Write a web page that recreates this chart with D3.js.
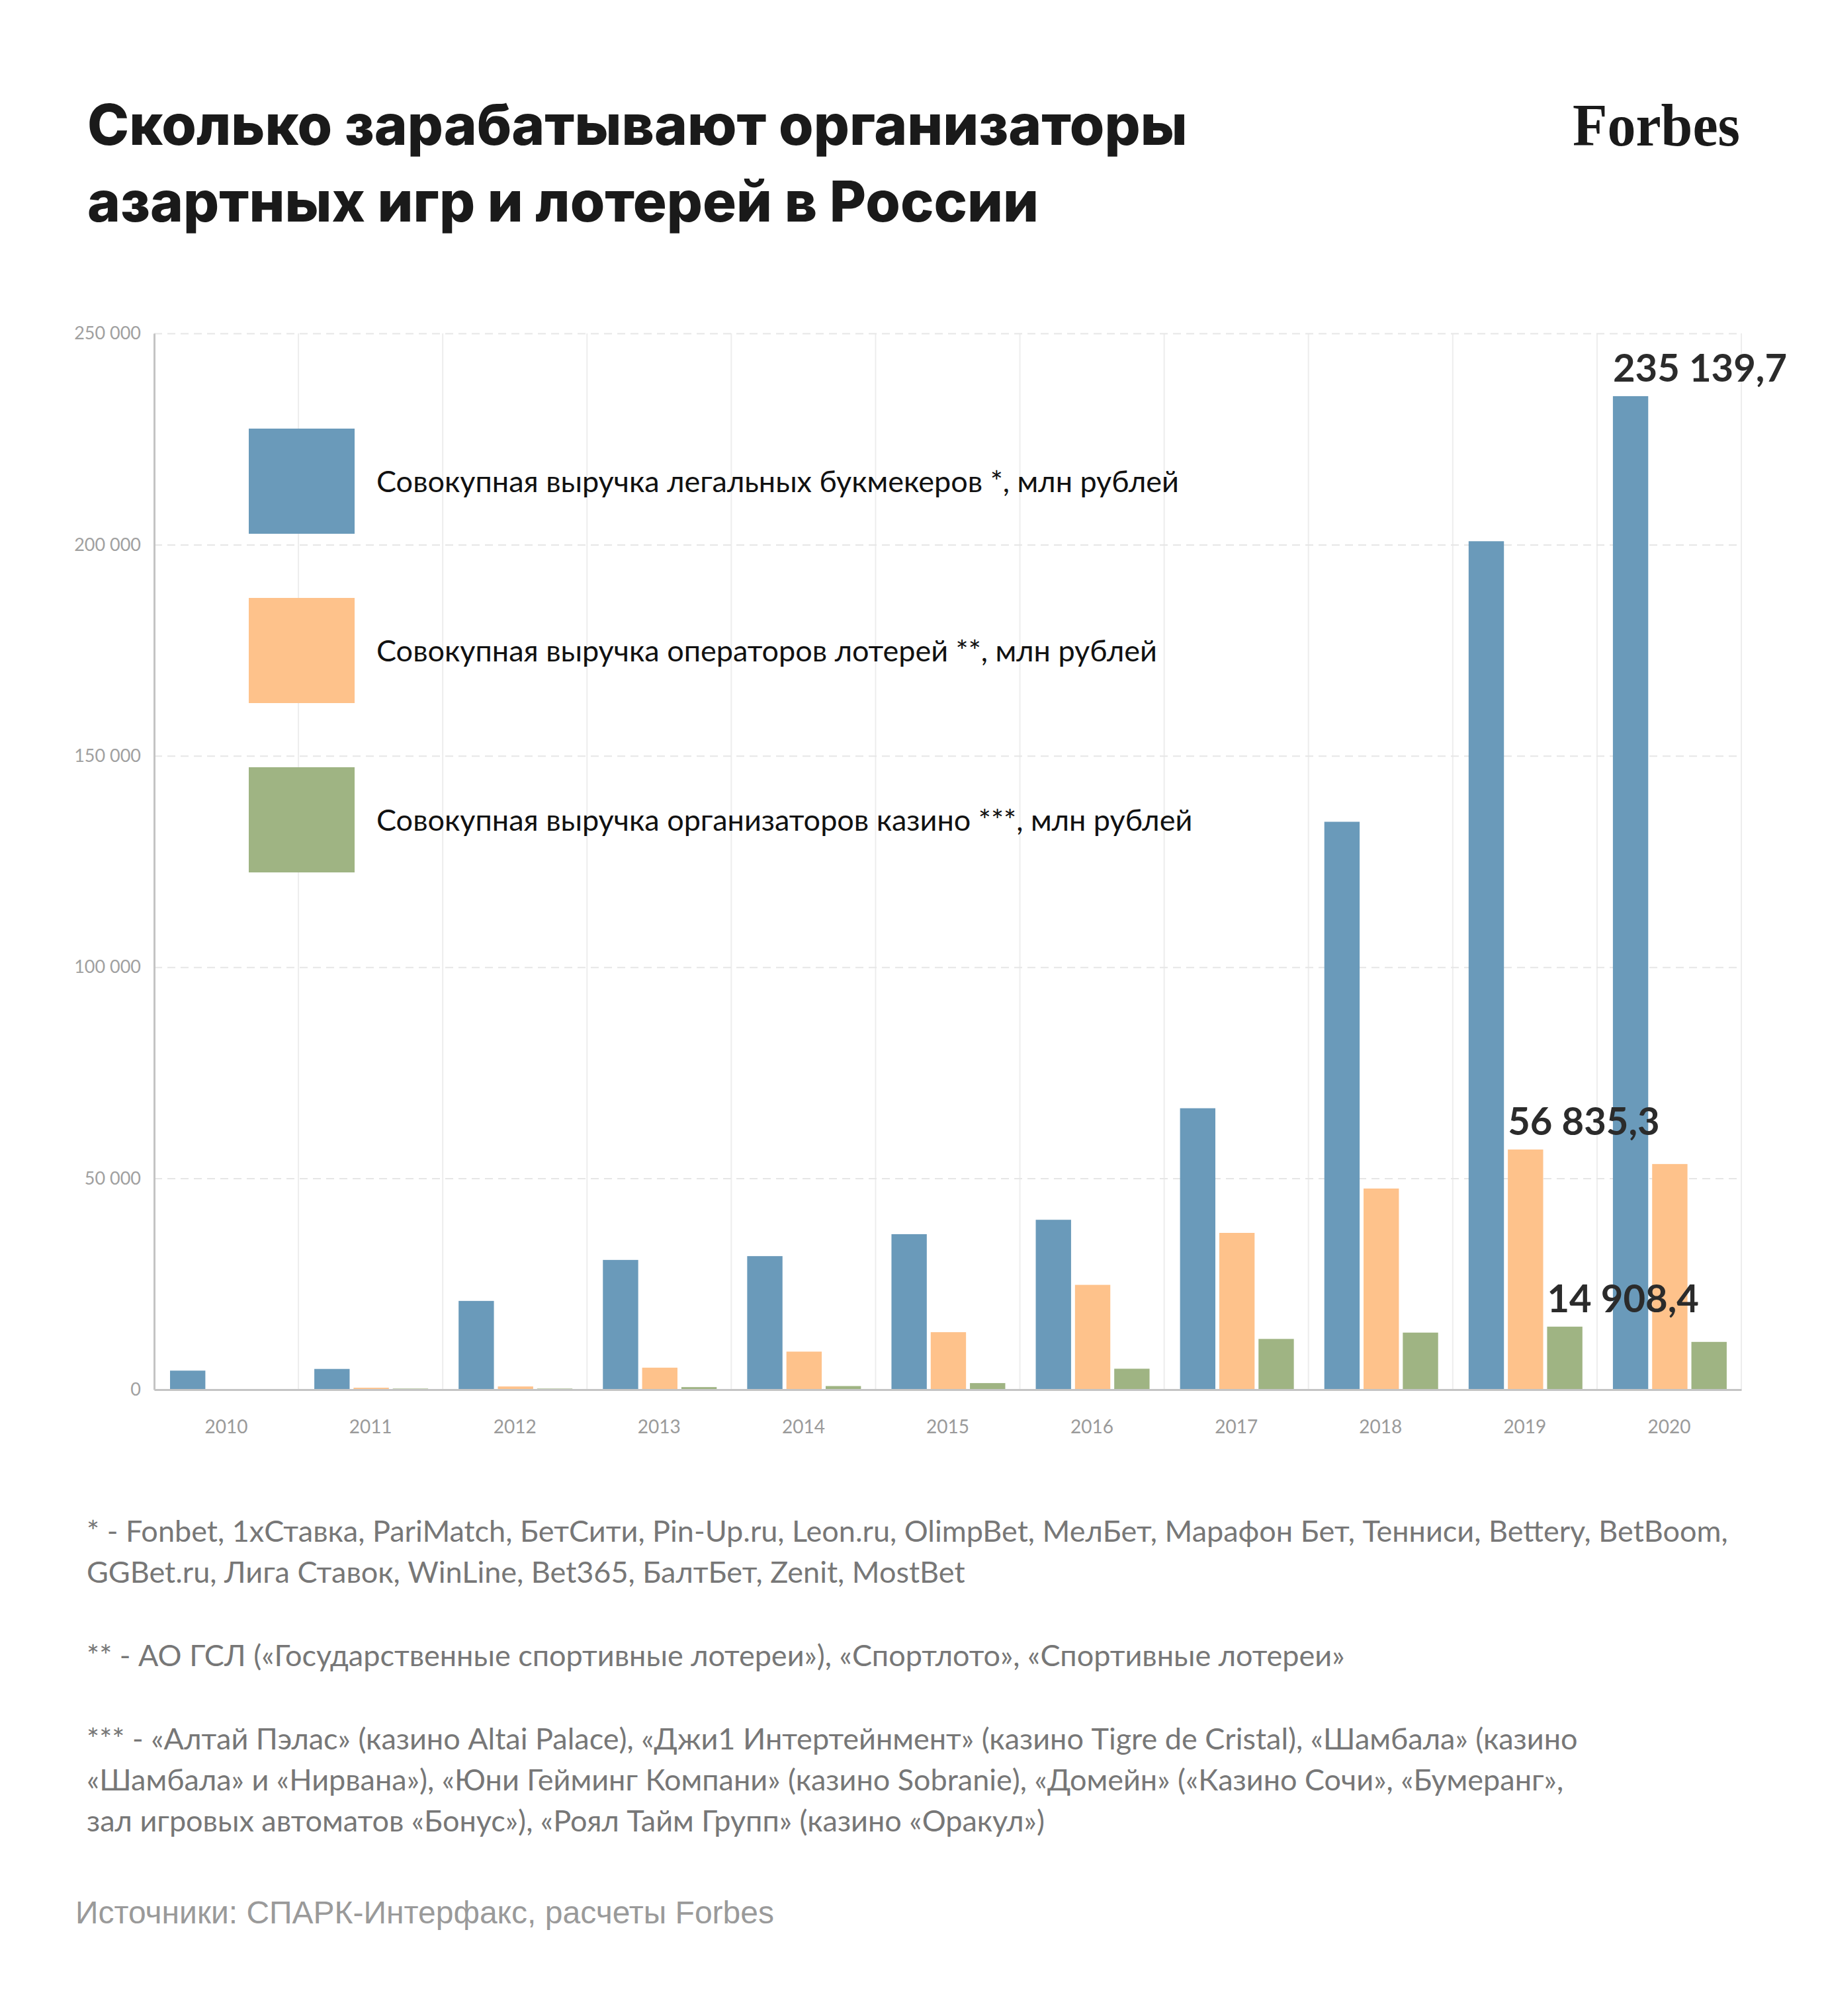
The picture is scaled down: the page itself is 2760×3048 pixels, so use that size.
<!DOCTYPE html>
<html>
<head>
<meta charset="utf-8">
<script src="https://cdn.jsdelivr.net/npm/d3@7"></script>
<style>
  html, body { margin: 0; padding: 0; background: #ffffff; }
  svg { display: block; }
</style>
</head>
<body>
<script>
// ---------- DATA ----------
const years = ["2010","2011","2012","2013","2014","2015","2016","2017","2018","2019","2020"];
const seriesKeys = ["bookmakers","lotteries","casinos"];
const seriesNames = [
  "Совокупная выручка легальных букмекеров *, млн рублей",
  "Совокупная выручка операторов лотерей **, млн рублей",
  "Совокупная выручка организаторов казино ***, млн рублей"
];
const bookmakers = [4500, 4900, 21000, 30700, 31600, 36800, 40200, 66600, 134400, 200800, 235139.7];
const lotteries  = [0, 450, 750, 5200, 9000, 13600, 24800, 37100, 47600, 56835.3, 53400];
const casinos    = [100, 250, 250, 600, 850, 1550, 4950, 12000, 13500, 14908.4, 11300];
const yTicks = [0, 50000, 100000, 150000, 200000, 250000];
const annotations = [
  {series: "bookmakers", year: "2020"},
  {series: "lotteries",  year: "2019"},
  {series: "casinos",    year: "2019"}
];
const titleLines = ["Сколько зарабатывают организаторы", "азартных игр и лотерей в России"];
const footnotes = [
  ["* - Fonbet, 1xСтавка, PariMatch, БетСити, Pin-Up.ru, Leon.ru, OlimpBet, МелБет, Марафон Бет, Тенниси, Bettery, BetBoom,",
   "GGBet.ru, Лига Ставок, WinLine, Bet365, БалтБет, Zenit, MostBet"],
  ["** - АО ГСЛ («Государственные спортивные лотереи»), «Спортлото», «Спортивные лотереи»"],
  ["*** - «Алтай Пэлас» (казино Altai Palace), «Джи1 Интертейнмент» (казино Tigre de Cristal), «Шамбала» (казино",
   "«Шамбала» и «Нирвана»), «Юни Гейминг Компани» (казино Sobranie), «Домейн» («Казино Сочи», «Бумеранг»,",
   "зал игровых автоматов «Бонус»), «Роял Тайм Групп» (казино «Оракул»)"]
];
const sourceText = "Источники: СПАРК-Интерфакс, расчеты Forbes";
const logoText = "Forbes";

// ---------- STYLE / LAYOUT ----------
const W = 2760, H = 3048;
const colors = {bookmakers: "#6a9aba", lotteries: "#fec28b", casinos: "#9fb483"};
const plot = {left: 233, right: 2632, top: 504, bottom: 2101};
const bodyFont = "Lato, 'Noto Sans', sans-serif";

const values = {bookmakers, lotteries, casinos};
const table = years.map((y, i) => ({year: y, bookmakers: bookmakers[i], lotteries: lotteries[i], casinos: casinos[i]}));

const ru = d3.formatLocale({decimal: ",", thousands: " ", grouping: [3], currency: ["", ""]});
const fmtTick = ru.format(",d");
const fmtVal = ru.format(",.1f");

const svg = d3.select("body").append("svg").attr("width", W).attr("height", H);
svg.append("rect").attr("width", W).attr("height", H).attr("fill", "#fff");

// Scales
const x0 = d3.scaleBand().domain(years).range([plot.left, plot.right]).paddingInner(0).paddingOuter(0);
const x1 = d3.scaleBand().domain(seriesKeys).range([24, 196]).paddingInner(0.1);
const y = d3.scaleLinear().domain([0, 250000]).range([plot.bottom, plot.top]);

// Vertical grid lines (band boundaries)
svg.append("g").selectAll("line")
  .data(years.slice(1).concat(["__end"]))
  .join("line")
  .attr("x1", d => d === "__end" ? plot.right : x0(d))
  .attr("x2", d => d === "__end" ? plot.right : x0(d))
  .attr("y1", plot.top).attr("y2", plot.bottom)
  .attr("stroke", "#ededed").attr("stroke-width", 2);

// Horizontal dashed grid
const grid = svg.append("g").attr("transform", `translate(${plot.left},0)`)
  .call(d3.axisLeft(y).tickValues(yTicks.filter(t => t > 0)).tickSize(-(plot.right - plot.left)).tickFormat(""));
grid.select(".domain").remove();
grid.selectAll(".tick line").attr("stroke", "#e6e6e6").attr("stroke-width", 2).attr("stroke-dasharray", "12,8");

// Legend
const legend = svg.append("g");
seriesKeys.forEach((k, i) => {
  const ty = 648 + i * 256;
  legend.append("rect").attr("x", 376).attr("y", ty).attr("width", 160).attr("height", 159).attr("fill", colors[k]);
  legend.append("text").attr("x", 569).attr("y", ty + 96)
    .attr("font-family", bodyFont).attr("font-size", 45).attr("fill", "#111")
    .text(seriesNames[i]);
});

// Bars
const groups = svg.append("g").selectAll("g")
  .data(table).join("g")
  .attr("transform", d => `translate(${x0(d.year)},0)`);
groups.selectAll("rect")
  .data(d => seriesKeys.map(k => ({key: k, value: d[k]})))
  .join("rect")
  .attr("x", d => x1(d.key))
  .attr("width", x1.bandwidth())
  .attr("y", d => y(d.value))
  .attr("height", d => y(0) - y(d.value))
  .attr("fill", d => colors[d.key]);

// Y axis
const yAxis = svg.append("g").attr("transform", `translate(${plot.left},0)`)
  .call(d3.axisLeft(y).tickValues(yTicks).tickFormat(fmtTick).tickSize(0).tickPadding(20).tickSizeOuter(0));
yAxis.select(".domain").attr("stroke", "#c4c4c4").attr("stroke-width", 3);
yAxis.selectAll("text").attr("font-family", bodyFont).attr("font-size", 27).attr("fill", "#a0a0a0");

// X axis
const xAxis = svg.append("g").attr("transform", `translate(0,${plot.bottom})`)
  .call(d3.axisBottom(x0).tickSize(0).tickPadding(46).tickSizeOuter(0));
xAxis.select(".domain").attr("stroke", "#c4c4c4").attr("stroke-width", 3);
xAxis.selectAll("text").attr("font-family", bodyFont).attr("font-size", 28).attr("fill", "#9a9a9a");

// Value annotations
svg.append("g").selectAll("text")
  .data(annotations).join("text")
  .attr("x", d => x0(d.year) + x1(d.series))
  .attr("y", d => y(values[d.series][years.indexOf(d.year)]) - 22)
  .attr("font-family", bodyFont).attr("font-weight", 700).attr("font-size", 58).attr("fill", "#2b2b2b")
  .text(d => fmtVal(values[d.series][years.indexOf(d.year)]));

// Title
svg.append("g").selectAll("text")
  .data(titleLines).join("text")
  .attr("x", 132).attr("y", (d, i) => 219 + i * 116)
  .attr("font-family", "Inter, 'Open Sans', sans-serif").attr("font-weight", 800)
  .attr("font-size", 85).attr("fill", "#1a1a1a")
  .text(d => d);

// Logo
svg.append("text").attr("x", 2630).attr("y", 220).attr("text-anchor", "end")
  .attr("font-family", "'Liberation Serif', 'DejaVu Serif', serif").attr("font-weight", 700)
  .attr("font-size", 90).attr("fill", "#1a1a1a")
  .attr("textLength", 253).attr("lengthAdjust", "spacingAndGlyphs")
  .text(logoText);

// Footnotes
const fnStarts = [2331, 2519, 2645];
const fn = svg.append("g");
footnotes.forEach((block, bi) => {
  block.forEach((line, li) => {
    fn.append("text").attr("x", 131).attr("y", fnStarts[bi] + li * 62)
      .attr("font-family", bodyFont).attr("font-size", 45).attr("fill", "#777")
      .text(line);
  });
});

// Source
svg.append("text").attr("x", 114).attr("y", 2908)
  .attr("font-family", "'Liberation Sans', Arial, sans-serif").attr("font-size", 48).attr("fill", "#9a9a9a")
  .text(sourceText);
</script>
</body>
</html>
